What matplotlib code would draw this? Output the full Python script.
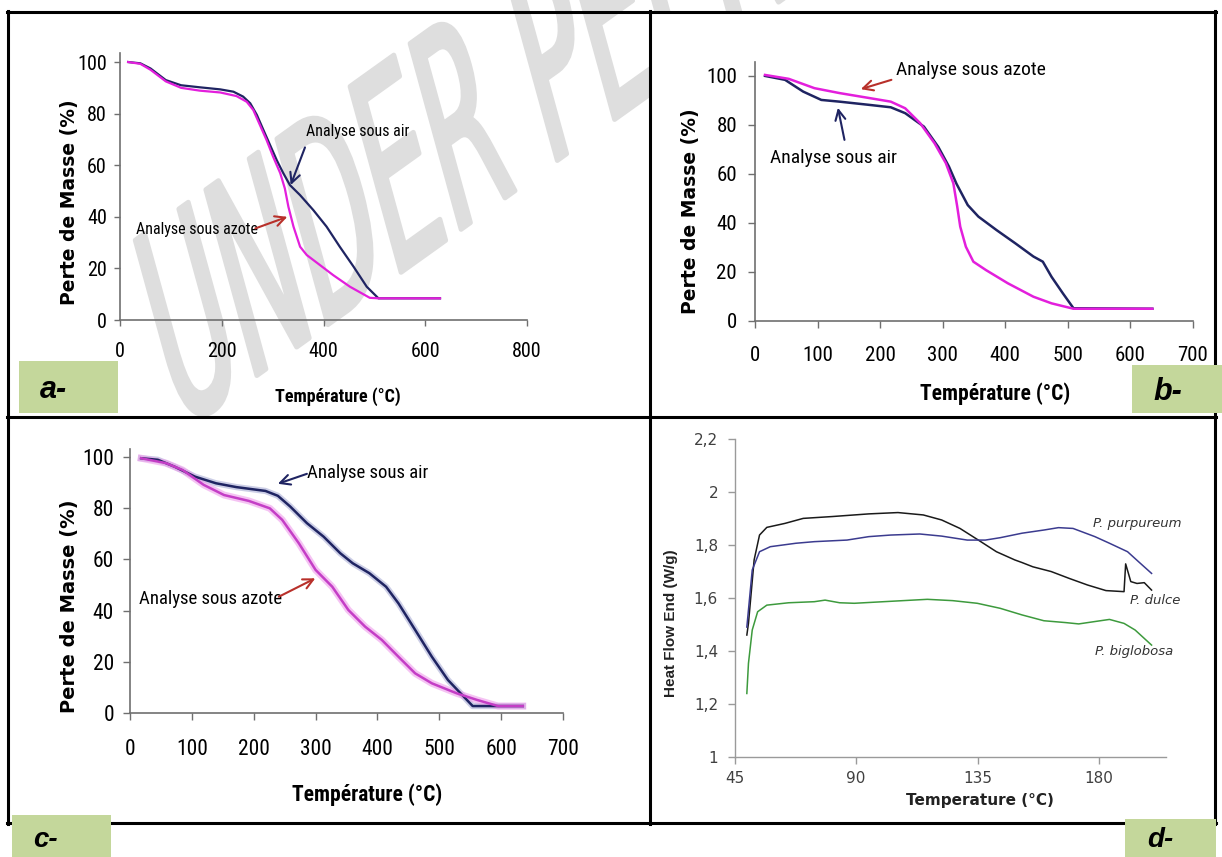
import os
import numpy as np
import matplotlib
matplotlib.use("Agg")
import matplotlib.pyplot as plt
from matplotlib import font_manager
from matplotlib.font_manager import FontProperties
from matplotlib.lines import Line2D
from matplotlib.patches import Rectangle, PathPatch
from matplotlib.textpath import TextPath
from matplotlib.transforms import Affine2D

# ---------------- data ----------------
# panel a
a_air_T = [16, 40, 60, 90, 120, 157, 197, 223, 242, 256, 269, 282, 295, 308, 321, 334, 354, 380, 406,
           432, 459, 485, 508, 629]
a_air_m = [100, 99.5, 97.5, 93, 91, 90.2, 89.4, 88.5, 86.6, 84, 79.5, 73.6, 67.8, 62, 56.9, 52.3, 48.4, 42.6,
           36.2, 28.4, 20.7, 12.9, 8.4, 8.4]
a_az_T = [16, 40, 60, 90, 120, 157, 197, 229, 249, 262, 275, 288, 301, 315, 324, 331, 341, 354, 367, 393,
          419, 452, 491, 508, 629]
a_az_m = [100, 99.3, 97, 92.5, 90, 88.9, 88.2, 86.8, 84.6, 81.4, 75.6, 69.8, 63.3, 56.9, 51, 43.9, 36.2, 28.4,
          25.2, 21.3, 17.4, 12.9, 8.6, 8.4, 8.4]

# panel b
b_air_T = [16, 48, 77, 106, 135, 182, 217, 240, 270, 293, 310, 322, 340, 357, 386, 416, 445, 460, 474, 492, 509, 635]
b_air_m = [100, 98.4, 93.6, 90.2, 89.5, 88.2, 87.2, 84.8, 79.3, 71, 63, 56, 47.3, 42.6, 37.1, 31.7, 26.3, 24.2, 18, 11.3, 5.2, 5]
b_az_T = [16, 54, 95, 135, 182, 217, 240, 264, 287, 305, 317, 323, 328, 337, 349, 369, 404, 445, 474, 509, 635]
b_az_m = [100.4, 98.8, 95, 93, 91, 89.5, 86.8, 80.7, 72.5, 64.4, 56.2, 47, 38.5, 30.3, 24.2, 20.8, 15.4, 9.9, 7.2, 5, 5]

# panel c
c_air_T = [18, 45, 72, 105, 139, 172, 219, 239, 259, 286, 313, 340, 360, 387, 414, 434, 461, 488, 514, 554, 581, 635]
c_air_m = [99.6, 99, 96.3, 92.4, 89.8, 88.3, 86.8, 84.9, 80.7, 74.2, 68.9, 62.4, 58.5, 54.6, 49.3, 42.8, 32.4, 21.9, 12.8, 2.6, 2.6, 2.6]
c_az_T = [18, 58, 85, 119, 152, 192, 226, 246, 273, 300, 327, 353, 380, 407, 434, 461, 488, 528, 561, 595, 635]
c_az_m = [99.6, 97.7, 95, 89.2, 85.2, 82.9, 80, 75.5, 66.3, 55.9, 49.3, 40.2, 33.7, 28.5, 21.9, 15.4, 11.5, 7.6, 5, 2.6, 2.6]

# panel d (DSC)
dulce_T = [49.5, 50.1, 52.2, 54.2, 56.9, 63.6, 70.4, 81.2, 94.7, 105.5, 114.9, 121.7, 128.5, 135.3, 142,
           148.8, 151.5, 155.5, 162.3, 169, 175.8, 182.6, 189.3, 189.9, 191.8, 194.1, 196.8, 199.5]
dulce_hf = [1.46, 1.504, 1.744, 1.838, 1.867, 1.882, 1.901, 1.908, 1.918, 1.923, 1.914, 1.895, 1.863, 1.819,
            1.775, 1.744, 1.734, 1.718, 1.70, 1.674, 1.649, 1.628, 1.624, 1.729, 1.662, 1.655, 1.658, 1.630]
purp_T = [49.5, 51.5, 54.2, 58.2, 67.7, 74.5, 86.6, 94.7, 102.8, 113.6, 121.7, 131.2, 137.9, 143.4,
          151.5, 159.6, 165, 170.4, 178.5, 183.9, 190.6, 194.7, 199.5]
purp_hf = [1.49, 1.706, 1.775, 1.794, 1.807, 1.813, 1.819, 1.832, 1.838, 1.842, 1.834, 1.819, 1.819, 1.828,
           1.845, 1.857, 1.866, 1.863, 1.832, 1.807, 1.775, 1.737, 1.693]
big_T = [49.5, 50.1, 51.5, 53.5, 56.9, 65, 74.5, 78.5, 83.9, 89.3, 100.1, 116.4, 125.8, 134.9, 143.4,
         151.5, 159.6, 167.7, 172.5, 178.5, 183.9, 189.3, 193.4, 199.5]
big_hf = [1.239, 1.353, 1.479, 1.548, 1.573, 1.582, 1.586, 1.592, 1.582, 1.580, 1.586, 1.595, 1.590, 1.580,
          1.561, 1.536, 1.514, 1.507, 1.502, 1.511, 1.519, 1.504, 1.479, 1.422]

a_xticks = [0, 200, 400, 600, 800]
bc_xticks = [0, 100, 200, 300, 400, 500, 600, 700]
tga_yticks = [0, 20, 40, 60, 80, 100]
d_xticks = [45, 90, 135, 180]
d_yticks = [1, 1.2, 1.4, 1.6, 1.8, 2, 2.2]
d_ylabels = ["1", "1,2", "1,4", "1,6", "1,8", "2", "2,2"]

# ---------------- setup ----------------
W, H = 1222, 857

# look for a narrow / condensed sans font file (Arial Narrow look)
FILES = [f.fname for f in font_manager.fontManager.ttflist]
PREFS = ['liberationsansnarrow', 'robotocondensed', 'notosans-condensed', 'opensans_condensed',
         'opensanscondensed', 'opensans-condensed', 'dejavusanscondensed']


def find_narrow(bold):
    for p in PREFS:
        for fn in FILES:
            b = os.path.basename(fn).lower().replace(' ', '')
            if not b.startswith(p):
                continue
            rest = b[len(p):].split('.')[0].strip('-_')
            if bold and rest == 'bold':
                return fn
            if not bold and rest in ('', 'regular'):
                return fn
    return None


NARROW_R = find_narrow(False)
NARROW_B = find_narrow(True)
SHRINK = 1.0 if NARROW_R else 0.85   # fallback: regular font a bit smaller


def nfont(size, bold=False):
    fn = NARROW_B if bold else NARROW_R
    if fn:
        return FontProperties(fname=fn, size=size)
    return FontProperties(family='Liberation Sans', weight='bold' if bold else 'normal', size=size * SHRINK)


NAVY = '#1f2462'
MAGENTA = '#e31fdc'
RED = '#b8302a'
GREEN_BOX = '#c4d79b'

fig = plt.figure(figsize=(W / 100, H / 100), dpi=100)


def box(x0, y0, x1, y1):
    # axes from pixel box (top-left origin)
    return fig.add_axes([x0 / W, 1 - y1 / H, (x1 - x0) / W, (y1 - y0) / H])


def ftext(x, y, s, **kw):
    return fig.text(x / W, 1 - y / H, s, **kw)


# watermark "UNDER PEER REVIEW": tall letters climbing along a diagonal
tp = TextPath((0, 0), "UNDER PEER REVIEW", size=1, prop=FontProperties(family='DejaVu Sans'))
wm_mat = np.array([[95.0, -70.0, 178.0],
                   [68.0, 255.0, 425.0],
                   [0.0, 0.0, 1.0]])
wm_tr = Affine2D(wm_mat) + Affine2D().scale(1 / W, 1 / H) + fig.transFigure
fig.add_artist(PathPatch(tp, facecolor='#dedede', edgecolor='#dedede', lw=3.5,
                         joinstyle='round', capstyle='round', transform=wm_tr, zorder=-2))

# white backgrounds of the pasted panels b, c, d (hide the watermark)
for x0, y0, x1, y1 in [(652, 14, 1213, 415), (10, 448, 648, 821), (652, 419, 1213, 821)]:
    fig.add_artist(Rectangle((x0 / W, 1 - y1 / H), (x1 - x0) / W, (y1 - y0) / H,
                             transform=fig.transFigure, facecolor='white', edgecolor='none', zorder=-1))


def style_tga(ax, xmax, ymax, xt, fs, padx, pady, tl):
    ax.set_xlim(0, xmax)
    ax.set_ylim(0, ymax)
    for s in ['top', 'right']:
        ax.spines[s].set_visible(False)
    for s in ['left', 'bottom']:
        ax.spines[s].set_color('#6f6f6f')
        ax.spines[s].set_linewidth(1.2)
    ax.set_xticks(xt)
    ax.set_xticklabels([str(v) for v in xt], fontproperties=nfont(fs))
    ax.set_yticks(tga_yticks)
    ax.set_yticklabels([str(v) for v in tga_yticks], fontproperties=nfont(fs))
    ax.tick_params(axis='x', direction='out', length=tl, width=1, color='#6f6f6f', pad=padx)
    ax.tick_params(axis='y', direction='out', length=tl, width=1, color='#6f6f6f', pad=pady)


def arrow(ax, start, end, color):
    ax.annotate('', xy=end, xytext=start,
                arrowprops=dict(arrowstyle='->', color=color, lw=1.5, mutation_scale=18,
                                shrinkA=0, shrinkB=0))


# ---------------- panel a ----------------
ax = box(120, 53, 527, 320)
ax.set_facecolor('none')
ax.plot(a_air_T, a_air_m, color=NAVY, lw=1.6)
ax.plot(a_az_T, a_az_m, color=MAGENTA, lw=1.6)
style_tga(ax, 800, 103.5, a_xticks, 14.5, 11.5, 5.5, 4)
ax.text(366, 73, "Analyse sous air", fontproperties=nfont(11.5), va='center')
arrow(ax, (363.6, 66.9), (335.5, 52.3), NAVY)
ax.text(31, 35, "Analyse sous azote", fontproperties=nfont(11.5), va='center')
arrow(ax, (266, 35.5), (329, 40), RED)
ftext(338, 397, "Température (°C)", fontproperties=nfont(13, True), ha='center', va='center')
ftext(69, 202, "Perte de Masse (%)", family='DejaVu Sans', fontweight='bold', fontsize=13.5,
      rotation=90, ha='center', va='center')

# ---------------- panel b ----------------
ax = box(755, 61.7, 1193, 321)
ax.plot(b_air_T, b_air_m, color=NAVY, lw=1.8)
ax.plot(b_az_T, b_az_m, color=MAGENTA, lw=1.8)
style_tga(ax, 700, 105.8, bc_xticks, 15, 13, 8, 5)
ax.text(226, 102.4, "Analyse sous azote", fontproperties=nfont(14), va='center')
arrow(ax, (218, 98.4), (169, 94.6), RED)
ax.text(24.5, 66.4, "Analyse sous air", fontproperties=nfont(14), va='center')
arrow(ax, (143, 73.9), (132.5, 87), NAVY)
ftext(995, 394, "Température (°C)", fontproperties=nfont(15.5, True), ha='center', va='center')
ftext(691, 211, "Perte de Masse (%)", family='DejaVu Sans', fontweight='bold', fontsize=13.5,
      rotation=90, ha='center', va='center')

# ---------------- panel c ----------------
ax = box(130, 449.3, 563, 712.7)
ax.plot(c_air_T, c_air_m, color='#8f93c8', lw=4.5, alpha=0.45)
ax.plot(c_az_T, c_az_m, color='#ef9cec', lw=5, alpha=0.6)
ax.plot(c_air_T, c_air_m, color=NAVY, lw=1.8)
ax.plot(c_az_T, c_az_m, color='#c43ec6', lw=1.8)
style_tga(ax, 700, 103.1, bc_xticks, 15.5, 14, 6.5, 5)
ax.text(286, 94, "Analyse sous air", fontproperties=nfont(13.5), va='center')
arrow(ax, (286, 93.5), (239, 89.6), NAVY)
ax.text(14.5, 44.5, "Analyse sous azote", fontproperties=nfont(13.5), va='center')
arrow(ax, (240.6, 45.4), (299.6, 52.6), RED)
ftext(367, 795, "Température (°C)", fontproperties=nfont(15.5, True), ha='center', va='center')
ftext(70, 606, "Perte de Masse (%)", family='DejaVu Sans', fontweight='bold', fontsize=14,
      rotation=90, ha='center', va='center')

# ---------------- panel d ----------------
ax = box(734.7, 439.3, 1166.4, 756.7)
ax.plot(dulce_T, dulce_hf, color='#1a1a1a', lw=1.1)
ax.plot(purp_T, purp_hf, color='#3b3b8f', lw=1.1)
ax.plot(big_T, big_hf, color='#3d9a3d', lw=1.1)
ax.set_xlim(45, 205)
ax.set_ylim(1, 2.2)
for s in ['top', 'right']:
    ax.spines[s].set_visible(False)
for s in ['left', 'bottom']:
    ax.spines[s].set_color('#9a9a9a')
    ax.spines[s].set_linewidth(1)
ax.set_xticks(d_xticks)
ax.set_xticklabels([str(v) for v in d_xticks], family='DejaVu Sans', fontsize=11, color='#404040')
ax.set_yticks(d_yticks)
ax.set_yticklabels(d_ylabels, family='DejaVu Sans', fontsize=11, color='#404040')
ax.tick_params(axis='x', direction='out', length=5, width=1, color='#9a9a9a', pad=5)
ax.tick_params(axis='y', direction='out', length=5, width=1, color='#9a9a9a', pad=7)
ax.text(177.8, 1.880, "P. purpureum", family='DejaVu Sans', style='italic', fontsize=9.5,
        color='#333333', va='center')
ax.text(191.6, 1.59, "P. dulce", family='DejaVu Sans', style='italic', fontsize=9.5,
        color='#333333', va='center')
ax.text(178.7, 1.397, "P. biglobosa", family='DejaVu Sans', style='italic', fontsize=9.5,
        color='#333333', va='center')
ftext(980, 800, "Temperature (°C)", family='DejaVu Sans', fontweight='bold', fontsize=11,
      color='#222222', ha='center', va='center')
ftext(670.5, 623, "Heat Flow End (W/g)", family='Liberation Sans', fontweight='bold', fontsize=11,
      color='#222222', rotation=90, ha='center', va='center')


# ---------------- table borders ----------------
def hline(y, x0, x1):
    fig.add_artist(Line2D([x0 / W, x1 / W], [1 - y / H, 1 - y / H], transform=fig.transFigure,
                          color='black', lw=2.2, zorder=5))


def vline(x, y0, y1):
    fig.add_artist(Line2D([x / W, x / W], [1 - y0 / H, 1 - y1 / H], transform=fig.transFigure,
                          color='black', lw=2.2, zorder=5))


hline(12, 7, 1216)
hline(417.5, 7, 1216)
hline(823, 7, 1216)
vline(8, 11, 824)
vline(650, 11, 824)
vline(1215, 11, 824)

# ---------------- panel letters ----------------
for (x0, y0, x1, y1), lab, tx, ty, fs in [((19, 361, 118, 413), "a-", 40, 390, 22),
                                           ((1132, 365, 1222, 413), "b-", 1153, 392, 22),
                                           ((12, 815, 111, 857), "c-", 33, 840, 20),
                                           ((1125, 819, 1216, 857), "d-", 1147, 840, 20)]:
    fig.add_artist(Rectangle((x0 / W, 1 - y1 / H), (x1 - x0) / W, (y1 - y0) / H,
                             transform=fig.transFigure, facecolor=GREEN_BOX, edgecolor='none', zorder=10))
    ftext(tx, ty, lab, family='Liberation Sans', fontweight='bold', style='italic', fontsize=fs,
          va='center', ha='left', zorder=11)

fig.savefig('out.png', dpi=100)
